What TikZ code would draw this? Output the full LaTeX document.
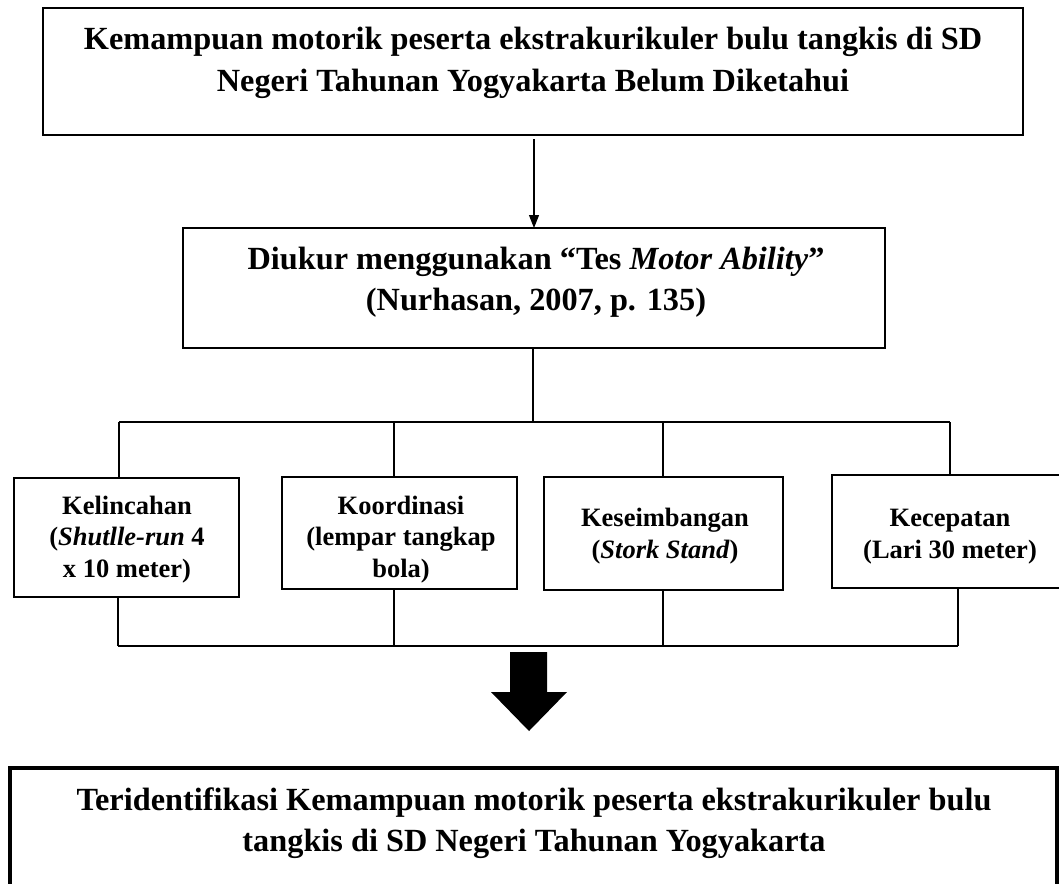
\documentclass[tikz,border=0pt]{standalone}
\usepackage{fontspec}
\setmainfont{Liberation Serif}
\usepackage{tikz}
\usetikzlibrary{arrows.meta}
\tikzset{
    box/.style      = {draw, line width=1.3pt, inner sep=0pt, outer sep=0pt},
    thickbox/.style = {box, line width=4.5pt},
    bigtext/.style  = {align=center, inner sep=0pt, anchor=base,
                       font=\fontsize{32.3}{41}\selectfont\bfseries},
    smalltext/.style= {align=center, inner sep=0pt, anchor=base,
                       font=\fontsize{26.5}{31.5}\selectfont\bfseries},
    link/.style     = {line width=1.1pt},
    bus/.style      = {line width=2pt},
    flow/.style     = {link, -{Triangle[length=13pt,width=10pt]}},
  }

\begin{document}
\begin{tikzpicture}[x=1pt,y=-1pt]
        \useasboundingbox (0,0) rectangle (1059,883);

        % Top box: the problem
        \node[box, minimum width=980pt, minimum height=127pt] (goal) at (533,71.5) {};
        \node[bigtext] (goaltext) at (533,91)
            {Kemampuan motorik peserta ekstrakurikuler bulu tangkis di SD\\
             Negeri Tahunan Yogyakarta Belum Diketahui};

        % Second box: the test
        \node[box, minimum width=702pt, minimum height=120pt] (method) at (534,288) {};
        \node[bigtext] (methodtext) at (536,310)
            {Diukur menggunakan “Tes \textit{Motor Ability}”\\
             (Nurhasan, 2007, p. 135)};
        \draw[flow, shorten <=4pt] (goal.south -| method.north) -- (method.north);

        % The four test items
        \node[box, minimum width=225pt, minimum height=119pt] (agil)    at (126.5,537.5) {};
        \node[box, minimum width=235pt, minimum height=112pt] (coord)   at (399.5,533)   {};
        \node[box, minimum width=239pt, minimum height=113pt] (balance) at (663.5,533.5) {};
        \node[box, minimum width=234pt, minimum height=113pt] (speed)   at (949,531.5)   {};

        \node[smalltext] (agiltext) at (127,577)
            {Kelincahan\\(\textit{Shutlle-run} 4\\x 10 meter)};
        \node[smalltext] (coordtext) at (401,577)
            {Koordinasi\\(lempar tangkap\\bola)};
        \node[smalltext] (balancetext) at (665,558)
            {Keseimbangan\\(\textit{Stork Stand})};
        \node[smalltext] (speedtext) at (950,558)
            {Kecepatan\\(Lari 30 meter)};

        % Upper bus: from the test down to every item
        \coordinate (split) at (533,422);
        \draw[link] (method.south -| split) -- (split);
        \foreach \x/\b in {119/agil,394/coord,663/balance,950/speed} {
            \coordinate (up-\b) at (\x,422);
            \draw[link] (up-\b) -- (up-\b |- \b.north);
        }
        \draw[bus] (up-agil) -- (up-speed);

        % Lower bus: from every item back together
        \foreach \x/\b in {118/agil,394/coord,663/balance,958/speed} {
            \coordinate (down-\b) at (\x,646);
            \draw[link] (\b.south -| down-\b) -- (down-\b);
        }
        \draw[bus] (down-agil) -- (down-speed);

        % Result box and the block arrow into it
        \node[thickbox, minimum width=1047pt, minimum height=142pt] (result) at (533.5,839) {};
        \node[bigtext] (resulttext) at (534,851)
            {Teridentifikasi Kemampuan motorik peserta ekstrakurikuler bulu\\
             tangkis di SD Negeri Tahunan Yogyakarta};
        \coordinate (join) at (529,652);
        \fill (join) ++(-19,0) -- ++(37,0) -- ++(0,40) -- ++(20,0)
              -- (join |- 0,731) -- ++(-38,-39) -- ++(19,0) -- cycle;
    \end{tikzpicture}
\end{document}
